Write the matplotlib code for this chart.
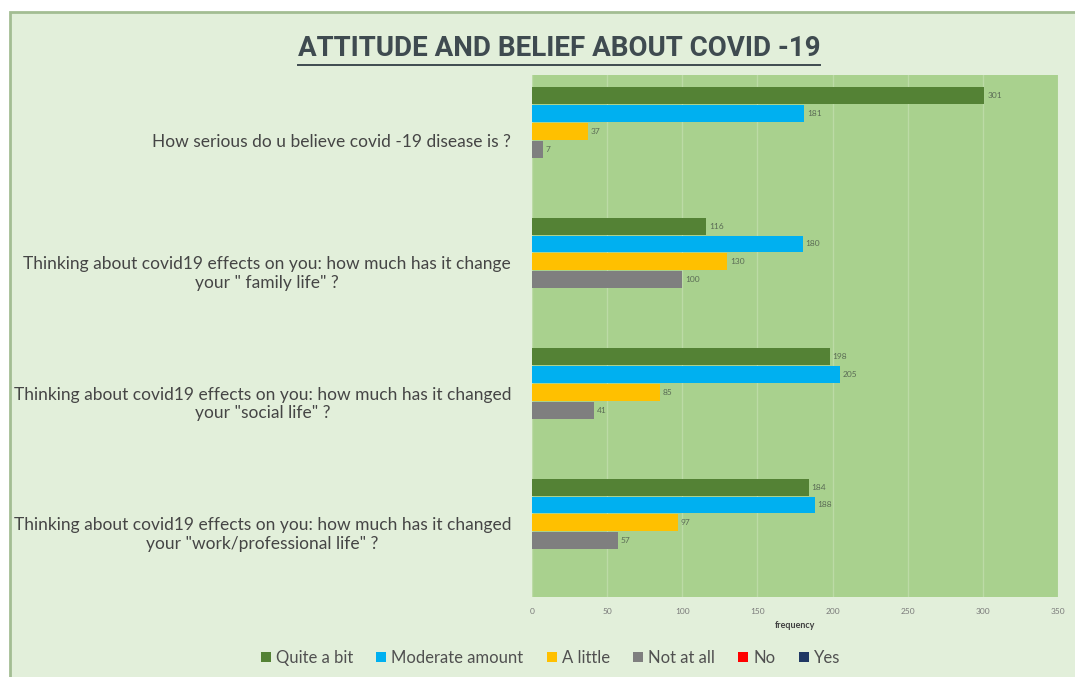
import numpy as np
import matplotlib
matplotlib.use("Agg")
import matplotlib.pyplot as plt
from matplotlib.patches import Rectangle
from matplotlib.lines import Line2D

# survey questions (top to bottom)
questions = [
    'How serious do u believe covid -19 disease is ?',
    'Thinking about covid19 effects on you: how much has it change\nyour " family life" ?',
    'Thinking about covid19 effects on you: how much has it changed\nyour "social life" ?',
    'Thinking about covid19 effects on you: how much has it changed\nyour "work/professional life" ?',
]

series_names = ['Quite a bit', 'Moderate amount', 'A little', 'Not at all', 'No', 'Yes']
series_colors = ['#548235', '#00b0f0', '#ffc000', '#7f7f7f', '#ff0000', '#203864']

quite_a_bit = [301, 116, 198, 184]
moderate_amount = [181, 180, 205, 188]
a_little = [37, 130, 85, 97]
not_at_all = [7, 100, 41, 57]
no_answer = [0, 0, 0, 0]
yes_answer = [0, 0, 0, 0]
values = [quite_a_bit, moderate_amount, a_little, not_at_all, no_answer, yes_answer]

x_ticks = [0, 50, 100, 150, 200, 250, 300, 350]

plt.rcParams['font.family'] = ['Lato', 'DejaVu Sans']

fig = plt.figure(figsize=(10.75, 6.77), dpi=100, facecolor='white')

# light green chart area with its border (behind everything)
bg = Rectangle((0.009, -0.01), 1.0, 0.993, transform=fig.transFigure,
               facecolor='#e2efda', edgecolor='#a3bd93', linewidth=2.0, zorder=-10)
fig.add_artist(bg)

ax = fig.add_axes([0.4949, 0.1182, 0.4893, 0.771])
ax.set_facecolor('#a9d18e')

n_series = len(series_names)
gap = 0.18
slot = (1 - gap) / n_series
y_base = np.arange(len(questions))

for i, (name, vals, col) in enumerate(zip(series_names, values, series_colors)):
    ypos = y_base - 0.5 + gap / 2 + slot * (i + 0.5)
    ax.barh(ypos, vals, height=slot * 0.95, color=col, label=name, zorder=3)
    if i < 4:
        for y, v in zip(ypos, vals):
            ax.text(v + 2, y, str(v), va='center', ha='left', fontsize=6,
                    color='#5a6b55', zorder=4)

ax.set_xlim(0, 350)
ax.set_ylim(len(questions) - 0.5, -0.5)
ax.set_xticks(x_ticks)
ax.set_xticklabels([str(t) for t in x_ticks], fontsize=6, color='#7a7a7a')
ax.tick_params(axis='x', length=0, pad=8)
ax.grid(axis='x', color='#bcdba6', linewidth=1.0, zorder=1)
ax.set_axisbelow(True)

ax.set_yticks(y_base)
ax.set_yticklabels(questions, fontsize=12.5, color='#454545')
for lbl in ax.get_yticklabels():
    lbl.set_multialignment('center')
ax.tick_params(axis='y', length=0, pad=15)

for s in ax.spines.values():
    s.set_visible(False)

ax.set_xlabel('frequency', fontsize=6.5, color='#404040', fontweight='bold', labelpad=4)

# title with underline
title = fig.text(0.52, 0.928, 'ATTITUDE AND BELIEF ABOUT COVID -19',
                 ha='center', va='center', fontsize=20, fontweight='bold',
                 color='#3f4b50',
                 family=['Liberation Sans Narrow', 'Roboto', 'DejaVu Sans'])
fig.canvas.draw()
bb = title.get_window_extent().transformed(fig.transFigure.inverted())
fig.add_artist(Line2D([bb.x0, bb.x1], [bb.y0 - 0.004, bb.y0 - 0.004],
                      transform=fig.transFigure, color='#3f4b50', linewidth=1.4))

handles = [Rectangle((0, 0), 1, 1, facecolor=c) for c in series_colors]
fig.legend(handles, series_names, loc='center', bbox_to_anchor=(0.512, 0.028), ncol=6,
           frameon=False, fontsize=12, handlelength=0.6, handleheight=0.6,
           handletextpad=0.3, columnspacing=1.4, labelcolor='#505050')

fig.savefig('out.png', dpi=100, facecolor=fig.get_facecolor())
